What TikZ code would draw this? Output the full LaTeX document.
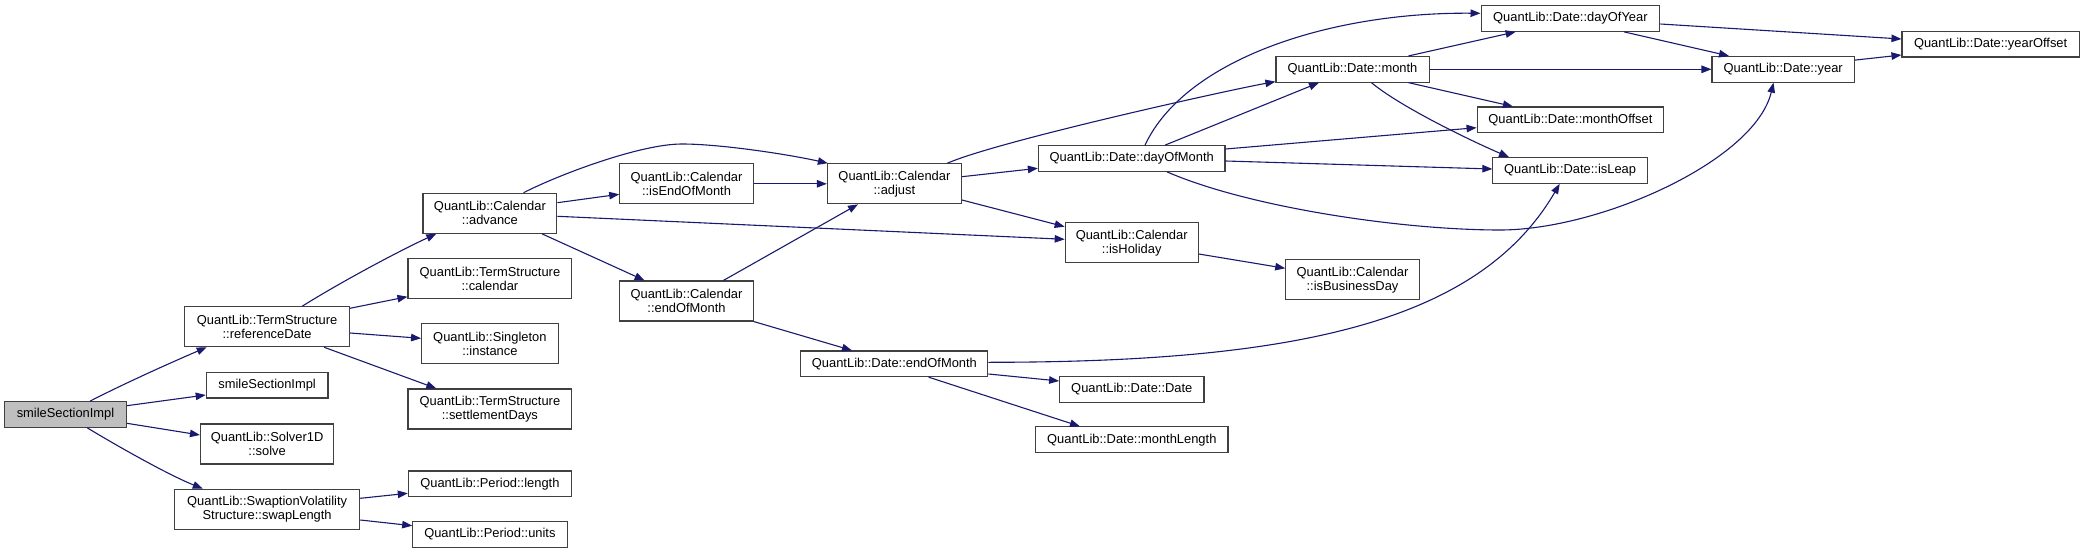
\documentclass[tikz,border=0pt]{standalone}
\usepackage{fontspec}
\setmainfont{Liberation Sans}
\usetikzlibrary{arrows.meta}
\definecolor{edgec}{HTML}{191970}
\definecolor{boxc}{HTML}{404040}
\definecolor{grayfill}{HTML}{BFBFBF}
\begin{document}
\begin{tikzpicture}[x=1pt,y=-1pt,
  box/.style={draw=boxc,line width=1.1pt,fill=white,inner sep=0pt,minimum height=25.6pt,
    font=\fontsize{12.9}{14}\selectfont,align=center},
  boxtwo/.style={box,minimum height=40pt},
  edge/.style={draw=edgec,line width=1.1pt,-{Triangle[length=10pt,width=7.5pt]}}]
\useasboundingbox[fill=white] (0,0) rectangle (2084,553);
% column 0
\node[box,fill=grayfill,minimum width=121.7pt] (gray) at (65.5,414.5) {smileSectionImpl};
% column 1
\node[boxtwo,minimum width=164.6pt] (refDate) at (267.1,326.7) {QuantLib::TermStructure\\::referenceDate};
\node[box,minimum width=121.7pt] (ssi2) at (267.1,385.2) {smileSectionImpl};
\node[boxtwo,minimum width=133.2pt] (solver) at (267.1,444) {QuantLib::Solver1D\\::solve};
\node[boxtwo,minimum width=185.2pt] (swapLen) at (267.1,509.2) {QuantLib::SwaptionVolatility\\Structure::swapLength};
% column 2
\node[boxtwo,minimum width=133.9pt] (advance) at (489.9,213.3) {QuantLib::Calendar\\::advance};
\node[boxtwo,minimum width=163.8pt] (tscal) at (489.9,278.7) {QuantLib::TermStructure\\::calendar};
\node[boxtwo,minimum width=136.6pt] (singleton) at (489.9,343.7) {QuantLib::Singleton\\::instance};
\node[boxtwo,minimum width=163.8pt] (settle) at (489.9,409) {QuantLib::TermStructure\\::settlementDays};
\node[box,minimum width=163.1pt] (plength) at (489.9,483.8) {QuantLib::Period::length};
\node[box,minimum width=154.3pt] (punits) at (489.9,534.5) {QuantLib::Period::units};
% column 3
\node[boxtwo,minimum width=133.5pt] (isEOM) at (686.5,183.8) {QuantLib::Calendar\\::isEndOfMonth};
\node[boxtwo,minimum width=133.5pt] (calEOM) at (686.5,301) {QuantLib::Calendar\\::endOfMonth};
% column 4
\node[boxtwo,minimum width=134pt] (adjust) at (894.4,183.8) {QuantLib::Calendar\\::adjust};
\node[box,minimum width=187pt] (dateEOM) at (894.4,363.8) {QuantLib::Date::endOfMonth};
% column 5
\node[box,minimum width=186.6pt] (dayOfMonth) at (1131.7,158.5) {QuantLib::Date::dayOfMonth};
\node[boxtwo,minimum width=133pt] (isHoliday) at (1131.7,242.7) {QuantLib::Calendar\\::isHoliday};
\node[box,minimum width=144.3pt] (dateDate) at (1131.8,389.3) {QuantLib::Date::Date};
\node[box,minimum width=192.3pt] (monthLength) at (1131.8,439.7) {QuantLib::Date::monthLength};
% column 6
\node[box,minimum width=153.1pt] (month) at (1352.5,69.3) {QuantLib::Date::month};
\node[boxtwo,minimum width=133.5pt] (isBusinessDay) at (1352.5,279.8) {QuantLib::Calendar\\::isBusinessDay};
% column 7
\node[box,minimum width=178.7pt] (dayOfYear) at (1570.4,18.5) {QuantLib::Date::dayOfYear};
\node[box,minimum width=186.6pt] (monthOffset) at (1570.4,119.8) {QuantLib::Date::monthOffset};
\node[box,minimum width=154.4pt] (isLeap) at (1570.1,170.5) {QuantLib::Date::isLeap};
% column 8, 9
\node[box,minimum width=142.4pt] (year) at (1783.2,69.3) {QuantLib::Date::year};
\node[box,minimum width=177.2pt] (yearOffset) at (1990.6,44.2) {QuantLib::Date::yearOffset};
% edges
\draw[edge] ([xshift=24.5pt]gray.north) .. controls +(35,-18) and +(-35,15) .. ([xshift=-60.4pt]refDate.south);
\draw[edge] ([yshift=8.8pt]gray.east) -- ([yshift=-9.8pt]ssi2.west);
\draw[edge] ([yshift=-8.8pt]gray.east) -- ([yshift=9pt]solver.west);
\draw[edge] ([xshift=21.8pt]gray.south) .. controls +(28,17) and +(-35,-14) .. ([xshift=-64.3pt]swapLen.north);
\draw[edge] ([xshift=35.2pt]refDate.north) .. controls +(40,-25) and +(-35,16) .. ([xshift=-53.6pt]advance.south);
\draw[edge] ([yshift=18.4pt]refDate.east) -- ([yshift=-18pt]tscal.west);
\draw[edge] ([yshift=-6.3pt]refDate.east) -- ([yshift=5.4pt]singleton.west);
\draw[edge] ([xshift=57pt]refDate.south) -- ([xshift=-53.6pt]settle.north);
\draw[edge] ([yshift=10.9pt]swapLen.east) -- ([yshift=-9.5pt]plength.west);
\draw[edge] ([yshift=-10.8pt]swapLen.east) -- ([yshift=8.8pt]punits.west);
\draw[edge] ([xshift=33.6pt]advance.north) .. controls +(35,-18) and (640,144) .. (682,144) .. controls (720,144) and +(-40,-9) .. ([xshift=1pt]adjust.north west);
\draw[edge] ([yshift=10.6pt]advance.east) -- ([yshift=-10.5pt]isEOM.west);
\draw[edge] ([yshift=-3pt]advance.east) -- ([yshift=3.4pt]isHoliday.west);
\draw[edge] ([xshift=52.1pt]advance.south) -- ([xshift=-41.9pt]calEOM.north);
\draw[edge] (isEOM.east) -- (adjust.west);
\draw[edge] ([xshift=36.9pt]calEOM.north) -- ([xshift=-36.4pt]adjust.south);
\draw[edge] (calEOM.south east) -- ([xshift=-42.4pt]dateEOM.north);
\draw[edge] ([yshift=7.1pt]adjust.east) -- ([yshift=-9.8pt]dayOfMonth.west);
\draw[edge] ([xshift=52.9pt]adjust.north) .. controls +(50,-22) and +(-45,8) .. ([yshift=1pt]month.south west);
\draw[edge] ([yshift=-16.2pt]adjust.east) -- ([yshift=16pt]isHoliday.west);
\draw[edge] ([yshift=-10.2pt]dateEOM.east) -- ([yshift=8.3pt]dateDate.west);
\draw[edge] ([xshift=34.2pt]dateEOM.south) -- ([xshift=-51.9pt]monthLength.north);
\draw[edge] ([yshift=1.5pt]dateEOM.east) .. controls +(312,0) and +(-80,137) .. ([xshift=-10.4pt]isLeap.south);
\draw[edge] ([xshift=13.3pt]dayOfMonth.north) .. controls +(40,-85.7) and +(-150.8,-1.3) .. ([yshift=5.2pt]dayOfYear.west);
\draw[edge] ([xshift=33.3pt]dayOfMonth.north) -- ([xshift=-33.5pt]month.south);
\draw[edge] ([yshift=9.5pt]dayOfMonth.east) -- ([yshift=-7.9pt]monthOffset.west);
\draw[edge] ([yshift=-2.5pt]dayOfMonth.east) -- ([yshift=1.5pt]isLeap.west);
\draw[edge] ([xshift=35.3pt]dayOfMonth.south) .. controls +(80,35) and +(-100,0) .. (1500,230) .. controls +(100,0) and +(-18.5,78) .. ([xshift=-9.7pt]year.south);
\draw[edge] ([yshift=-11.3pt]isHoliday.east) -- ([yshift=11.5pt]isBusinessDay.west);
\draw[edge] ([xshift=56pt]month.north) -- ([xshift=-54.8pt]dayOfYear.south);
\draw[edge] (month.east) -- (year.west);
\draw[edge] ([xshift=56pt]month.south) -- ([xshift=-57.5pt]monthOffset.north);
\draw[edge] ([xshift=18.9pt]month.south) .. controls +(30,25) and +(-35,-15) .. ([xshift=-61.1pt]isLeap.north);
\draw[edge] ([xshift=53.5pt]dayOfYear.south) -- ([xshift=-54.2pt]year.north);
\draw[edge] ([yshift=-5.5pt]dayOfYear.east) -- ([yshift=5.2pt]yearOffset.west);
\draw[edge] ([yshift=9.2pt]year.east) -- ([yshift=-10.8pt]yearOffset.west);
\end{tikzpicture}
\end{document}
